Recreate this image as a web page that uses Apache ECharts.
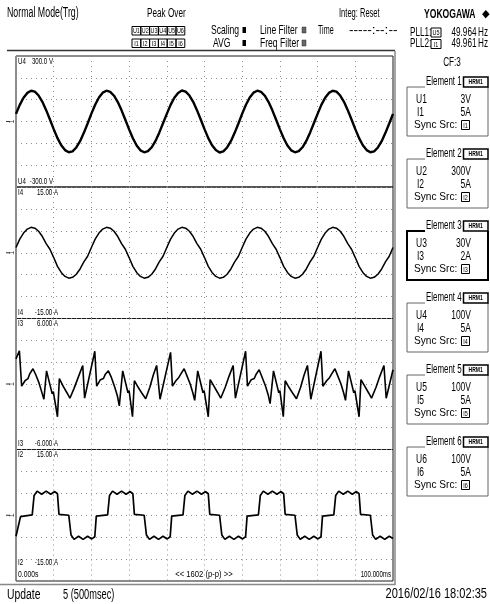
<!DOCTYPE html>
<html><head><meta charset="utf-8">
<script src="https://cdn.jsdelivr.net/npm/echarts@6/dist/echarts.min.js"></script>
<style>html,body{margin:0;padding:0;background:#fff}#c{width:490px;height:604px}</style>
</head><body><div id="c"></div><script>
// ---- data ----
const sampleTimesMs = Array.from({length: 101}, (_, i) => i); // 1 ms sampling, 0..100 ms
const u4Volts = [
 35, 76, 109, 131, 141, 137, 119, 90, 52, 9, -35, -76, -109, -131, -141, -137, -119, -90, -52, -9,
 36, 77, 110, 132, 141, 136, 118, 89, 51, 8, -36, -77, -110, -132, -141, -136, -118, -89, -51, -8,
 35, 76, 109, 131, 142, 137, 119, 90, 52, 9, -35, -76, -109, -131, -142, -137, -119, -90, -52, -9,
 36, 77, 110, 132, 141, 136, 118, 89, 51, 8, -36, -77, -110, -132, -141, -136, -118, -89, -51, -8,
 35, 76, 109, 131, 141, 137, 119, 90, 52, 9, -35, -76, -109, -131, -141, -137, -119, -90, -52, -9,
 35];
const i4Amps = [
 1.2, 3.1, 4.5, 5.4, 5.8, 5.6, 4.9, 3.7, 2.1, 0.8, -1.1, -3.1, -4.5, -5.4, -5.8, -5.6, -4.9, -3.7, -2.1, -0.8,
 1.2, 3.1, 4.5, 5.4, 5.8, 5.6, 4.9, 3.7, 2.1, 0.8, -1.1, -3.1, -4.5, -5.4, -5.8, -5.6, -4.9, -3.7, -2.1, -0.8,
 1.2, 3.1, 4.5, 5.4, 5.8, 5.6, 4.9, 3.7, 2.1, 0.8, -1.1, -3.1, -4.5, -5.4, -5.8, -5.6, -4.9, -3.7, -2.1, -0.8,
 1.2, 3.1, 4.5, 5.4, 5.8, 5.6, 4.9, 3.7, 2.1, 0.8, -1.1, -3.1, -4.5, -5.4, -5.8, -5.6, -4.9, -3.7, -2.1, -0.8,
 1.2, 3.1, 4.5, 5.4, 5.8, 5.6, 4.9, 3.7, 2.1, 0.8, -1.1, -3.1, -4.5, -5.4, -5.8, -5.6, -4.9, -3.7, -2.1, -0.8,
 1.2];
// [time ms, amps]
const i3Points = [
 [0,2.3],[0.9,3.05],[1.5,-0.2],[2.4,0.3],[3.2,0.5],[3.6,0.9],[4.0,0.8],[4.5,1.4],[5.3,0.8],[6.1,0.1],[6.8,-0.7],[7.4,-1.4],[8.1,1.2],[9.6,-0.9],[9.9,-0.7],[11.0,-3.0],[11.5,0.5],[12.5,-0.2],[13.5,-0.8],[14.3,-1.3],[15.4,-0.4],[16.6,0.7],[17.7,1.7],[18.2,-1.3],
 [20.9,3.0],[21.4,-0.2],[22.4,0.4],[23.2,0.5],[23.7,0.9],[24.1,0.8],[24.5,1.2],[25.3,0.6],[26.2,-0.3],[26.9,-1.1],[27.4,-2.0],[28.3,1.2],[29.7,-0.8],[30.0,-0.6],[30.9,-3.0],[31.4,0.3],[32.4,-0.3],[33.5,-0.9],[34.4,-1.35],[35.5,-0.3],[36.4,0.8],[37.3,1.7],[38.2,-1.4],
 [41.0,2.9],[41.5,-0.2],[42.4,0.3],[43.2,0.6],[43.7,0.9],[44.1,0.8],[44.6,1.4],[45.4,0.7],[46.2,0.0],[46.9,-0.8],[47.4,-1.5],[48.2,1.2],[49.6,-0.8],[49.9,-0.6],[51.0,-3.0],[51.5,0.4],[52.5,-0.2],[53.5,-0.8],[54.3,-1.3],[55.5,-0.3],[56.5,0.7],[57.6,1.7],[58.2,-1.3],
 [60.9,3.0],[61.4,-0.2],[62.4,0.4],[63.2,0.5],[63.7,0.9],[64.1,0.8],[64.5,1.3],[65.3,0.6],[66.2,-0.2],[66.9,-1.0],[67.4,-1.8],[68.3,1.2],[69.7,-0.8],[70.0,-0.6],[70.9,-3.0],[71.4,0.3],[72.4,-0.3],[73.5,-0.9],[74.4,-1.35],[75.5,-0.3],[76.4,0.8],[77.3,1.7],[78.2,-1.4],
 [80.9,3.0],[81.4,-0.2],[82.4,0.3],[83.2,0.6],[83.7,0.9],[84.1,0.8],[84.6,1.4],[85.4,0.7],[86.2,0.0],[86.9,-0.8],[87.4,-1.5],[88.2,1.2],[89.6,-0.8],[89.9,-0.6],[91.0,-3.0],[91.5,0.4],[92.5,-0.2],[93.5,-0.8],[94.3,-1.3],[95.5,-0.3],[96.5,0.7],[97.6,1.7],[98.2,-1.3],[100,1.3]
];
const i2Points = [
 [0,-4.8],[0.4,-4.5],[1.2,-0.3],[1.5,0],[4.3,0.1],[4.8,4.5],[5.6,5.5],[6.8,4.8],[8.0,5.5],[9.2,4.8],[10.3,5.4],[11.0,4.9],[11.4,0.2],[14.0,0],[14.6,-4.5],[15.4,-5.5],[16.6,-4.8],[17.8,-5.5],[19.0,-4.8],[20.1,-5.4],[20.9,-4.9],[21.3,-0.2],
 [24.3,0.1],[24.8,4.5],[25.6,5.5],[26.8,4.8],[28.0,5.5],[29.2,4.8],[30.3,5.4],[31.0,4.9],[31.4,0.2],[34.0,0],[34.6,-4.5],[35.4,-5.5],[36.6,-4.8],[37.8,-5.5],[39.0,-4.8],[40.1,-5.4],[40.9,-4.9],[41.3,-0.2],
 [44.3,0.1],[44.8,4.5],[45.6,5.5],[46.8,4.8],[48.0,5.5],[49.2,4.8],[50.3,5.4],[51.0,4.9],[51.4,0.2],[54.0,0],[54.6,-4.5],[55.4,-5.5],[56.6,-4.8],[57.8,-5.5],[59.0,-4.8],[60.1,-5.4],[60.9,-4.9],[61.3,-0.2],
 [64.3,0.1],[64.8,4.5],[65.6,5.5],[66.8,4.8],[68.0,5.5],[69.2,4.8],[70.3,5.4],[71.0,4.9],[71.4,0.2],[74.0,0],[74.6,-4.5],[75.4,-5.5],[76.6,-4.8],[77.8,-5.5],[79.0,-4.8],[80.1,-5.4],[80.9,-4.9],[81.3,-0.2],
 [84.3,0.1],[84.8,4.5],[85.6,5.5],[86.8,4.8],[88.0,5.5],[89.2,4.8],[90.3,5.4],[91.0,4.9],[91.4,0.2],[94.0,0],[94.6,-4.5],[95.4,-5.5],[96.6,-4.8],[97.8,-5.5],[99.0,-4.8],[100,-5.3]
];
const panelNames = ['U4', 'I4', 'I3', 'I2'];
const panelFullScale = [300, 15, 6, 15];
const panelTopLabels = ['300.0 V', '15.00 A', '6.000 A', '15.00 A'];
const panelBottomLabels = ['-300.0 V', '-15.00 A', '-6.000 A', '-15.00 A'];
const elementVoltRanges = ['3V', '300V', '30V', '100V', '100V', '100V'];
const elementCurrRanges = ['5A', '5A', '2A', '5A', '5A', '5A'];
const timeStartLabel = '0.000s';
const timeEndLabel = '100.000ms';
const timeMidLabel = '<< 1602 (p-p) >>';

// ---- layout ----
const tops = [56, 187, 318.5, 449.5];
const heights = [131, 131.5, 131, 131.5];
const GL = 16, GW = 377;
const SX = 0.72;
const FONT = '"Liberation Sans",Arimo,Arial,sans-serif';

function txt(s, x, y, size, align, o) {
  o = o || {};
  align = align || 'left';
  return {type: 'text', x: x, y: y, scaleX: o.sx || SX, z: 50, silent: true,
    style: {text: s, font: (o.bold ? 'bold ' : '') + size + 'px ' + FONT, fill: o.color || '#000',
      align: align, verticalAlign: 'middle', textAlign: align, textVerticalAlign: 'middle'}};
}
function rect(x, y, w, h, o) {
  o = o || {};
  return {type: 'rect', shape: {x: x, y: y, width: w, height: h}, z: o.z || 40, silent: true,
    style: {fill: o.fill || 'none', stroke: o.stroke || '#000', lineWidth: o.lw == null ? 1 : o.lw}};
}
function line(x1, y1, x2, y2, o) {
  o = o || {};
  return {type: 'line', shape: {x1: x1, y1: y1, x2: x2, y2: y2}, z: o.z || 40, silent: true,
    style: {stroke: o.stroke || '#000', lineWidth: o.lw == null ? 1 : o.lw}};
}
function poly(pts, o) {
  o = o || {};
  return {type: 'polyline', shape: {points: pts}, z: o.z || 40, silent: true,
    style: {stroke: o.stroke || '#000', lineWidth: o.lw == null ? 1 : o.lw, fill: 'none'}};
}
function boxed(label, x, y, w, h, size) {
  return [rect(x, y, w, h, {lw: 1}), txt(label, x + w / 2, y + h / 2 + 0.5, size, 'center', {sx: 0.72})];
}

const g = [];
// header
g.push(txt('Normal Mode(Trg)', 7, 13, 14, 'left', {sx: 0.63}));
g.push(txt('Peak Over', 147, 13.5, 13, 'left', {sx: 0.63}));
for (let k = 0; k < 6; k++) {
  g.push(...boxed('U' + (k + 1), 132 + k * 8.8, 26.5, 8.8, 8.5, 7.5));
  g.push(...boxed('I' + (k + 1), 132 + k * 8.8, 39, 8.8, 8.5, 7.5));
}
g.push(txt('Scaling', 211, 30, 13, 'left', {sx: 0.66}));
g.push(rect(242.5, 27, 3.5, 6, {fill: '#000', stroke: '#000', lw: 0}));
g.push(txt('AVG', 213, 43, 13, 'left', {sx: 0.66}));
g.push(rect(242.5, 40, 3.5, 6, {fill: '#000', stroke: '#000', lw: 0}));
g.push(txt('Line Filter', 260, 30, 13, 'left', {sx: 0.66}));
g.push(rect(302, 27, 4, 6, {fill: '#666', stroke: '#333', lw: 0.5}));
g.push(txt('Freq Filter', 260, 43, 13, 'left', {sx: 0.66}));
g.push(rect(302, 40, 4, 6, {fill: '#666', stroke: '#333', lw: 0.5}));
g.push(txt('Time', 318, 30, 13, 'left', {sx: 0.55}));
g.push(txt('Integ: Reset', 339, 13.5, 13, 'left', {sx: 0.58}));
g.push(txt('-----:--:--', 349, 30, 13, 'left', {sx: 1.05}));
g.push(txt('YOKOGAWA', 424, 14, 13, 'left', {bold: true, sx: 0.66}));
g.push(txt('\u25C6', 485.5, 14, 11, 'center', {sx: 0.9}));
g.push(txt('PLL1:', 410, 32.5, 12, 'left', {sx: 0.68}));
g.push(...boxed('U5', 431, 28, 10, 9, 7.5));
g.push(txt('49.964', 451.5, 32.5, 12, 'left', {sx: 0.68}));
g.push(txt('Hz', 478, 32.5, 12, 'left', {sx: 0.68}));
g.push(txt('PLL2:', 410, 44, 12, 'left', {sx: 0.68}));
g.push(...boxed('I1', 431, 39.5, 10, 9, 7.5));
g.push(txt('49.961', 451.5, 44, 12, 'left', {sx: 0.68}));
g.push(txt('Hz', 478, 44, 12, 'left', {sx: 0.68}));
g.push(line(7, 50.5, 395, 50.5, {stroke: '#333', lw: 1.5}));

// right element panel
g.push(txt('CF:3', 452, 63, 12, 'center', {sx: 0.68}));
for (let k = 0; k < 6; k++) {
  const T = 82 + 72 * k;
  const sel = k === 2;
  g.push(txt('Element ' + (k + 1), 426, T, 12, 'left', {sx: 0.66}));
  g.push(rect(463.5, T - 5, 24.5, 10, {fill: '#fff', stroke: '#000', lw: 1.5, z: 45}));
  g.push(txt('HRM1', 475.7, T + 0.5, 7, 'center', {bold: true, sx: 0.72}));
  g.push(poly([[425, T + 5], [407, T + 5], [407, T + 54], [488, T + 54], [488, T + 5]],
    {stroke: sel ? '#000' : '#666', lw: sel ? 2 : 1}));
  g.push(txt('U' + (k + 1), 416, T + 18, 12.5, 'left', {sx: 0.68}));
  g.push(txt(elementVoltRanges[k], 471, T + 18, 12.5, 'right', {sx: 0.68}));
  g.push(txt('I' + (k + 1), 417, T + 30.5, 12.5, 'left', {sx: 0.68}));
  g.push(txt(elementCurrRanges[k], 471, T + 30.5, 12.5, 'right', {sx: 0.68}));
  g.push(txt('Sync Src:', 414, T + 43, 11, 'left', {sx: 0.92}));
  g.push(...boxed('I' + (k + 1), 461.5, T + 38.5, 8, 9, 7.5));
}

// panel labels + zero markers
const rightEdge = [53, 58, 58, 58];
for (let p = 0; p < 4; p++) {
  const top = tops[p], bot = tops[p] + heights[p];
  g.push(txt(panelNames[p], 18, top + 5.5, 8.5));
  g.push(txt(panelTopLabels[p], rightEdge[p], top + 5.5, 8.5, 'right'));
  g.push(txt(panelNames[p], 18, bot - (p === 3 ? 18 : 5.5), 8.5));
  g.push(txt(panelBottomLabels[p], rightEdge[p], bot - (p === 3 ? 18 : 5.5), 8.5, 'right'));
  const cy = top + heights[p] / 2;
  g.push(line(6, cy, 10, cy, {stroke: '#333', lw: 1}));
  g.push({type: 'text', x: 12, y: cy, rotation: Math.PI / 2, silent: true, z: 50,
    style: {text: '1', font: '7px ' + FONT, fill: '#333', align: 'center', verticalAlign: 'middle', textAlign: 'center', textVerticalAlign: 'middle'}});
}
g.push(txt(timeStartLabel, 18, 574.5, 8.5, 'left', {sx: 0.8}));
g.push(txt(timeMidLabel, 204, 574.5, 8.5, 'center', {sx: 0.9}));
g.push(txt(timeEndLabel, 391, 574.5, 8.5, 'right', {sx: 0.72}));

// frame shadow + footer
g.push(line(395, 51, 395, 585, {stroke: '#888', lw: 1.5}));
g.push(line(0, 584.5, 395, 584.5, {stroke: '#888', lw: 1.5}));
g.push(txt('Update', 7, 595, 14, 'left', {sx: 0.74}));
g.push(txt('5 (500msec)', 63, 595, 14, 'left', {sx: 0.66}));
g.push(txt('2016/02/16 18:02:35', 487, 594, 14, 'right', {sx: 0.79}));

const dotted = {show: true, lineStyle: {color: '#8c8c8c', type: [1, 4], width: 1}};
const grids = [], xAxes = [], yAxes = [];
for (let p = 0; p < 4; p++) {
  grids.push({left: GL, width: GW, top: tops[p], height: heights[p], show: true,
    borderColor: '#1a1a1a', borderWidth: 1, backgroundColor: 'transparent'});
  xAxes.push({gridIndex: p, type: 'value', min: 0, max: 100, interval: 10,
    axisLine: {show: false}, axisTick: {show: false}, axisLabel: {show: false}, splitLine: dotted});
  yAxes.push({gridIndex: p, type: 'value', min: -panelFullScale[p], max: panelFullScale[p],
    interval: panelFullScale[p] / 3,
    axisLine: {show: false}, axisTick: {show: false}, axisLabel: {show: false}, splitLine: dotted});
}
function ser(idx, data, w) {
  return {type: 'line', xAxisIndex: idx, yAxisIndex: idx, data: data, showSymbol: false, symbol: 'none',
    lineStyle: {color: '#000', width: w}, animation: false, silent: true, z: 5};
}
const chart = echarts.init(document.getElementById('c'), null, {renderer: 'canvas'});
chart.setOption({
  animation: false,
  backgroundColor: '#fff',
  grid: grids, xAxis: xAxes, yAxis: yAxes,
  series: [
    ser(0, sampleTimesMs.map((t, k) => [t, u4Volts[k]]), 2.4),
    ser(1, sampleTimesMs.map((t, k) => [t, i4Amps[k]]), 1.5),
    ser(2, i3Points, 1.6),
    ser(3, i2Points, 1.7)
  ],
  graphic: {elements: g}
});
</script></body></html>
